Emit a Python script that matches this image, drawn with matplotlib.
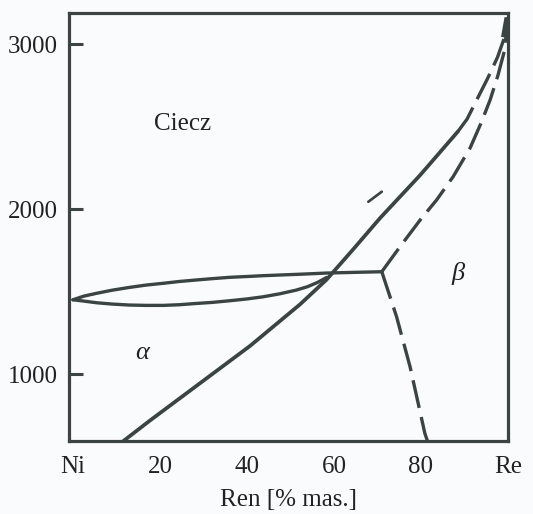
import numpy as np
import matplotlib
matplotlib.use('Agg')
import matplotlib.pyplot as plt

plt.rcParams['font.family'] = ['Liberation Serif', 'DejaVu Serif']

INK = '#3c4343'
BG = '#fafbfc'

# phase boundaries (x: % mass Re, y: temperature)
liq_ni_x = [0, 2.5, 5.4, 9, 13, 16.8, 20.8, 24.5, 28.4, 32, 36, 40, 43.7,
            47.5, 51.4, 55, 58.3, 64.5, 71]
liq_ni_y = [1450, 1472, 1489, 1508, 1525, 1539, 1550, 1561, 1570, 1578, 1586,
            1591, 1596, 1600, 1604, 1608, 1612, 1616, 1620]

sol_ni_x = [0, 2.5, 5.4, 9, 13, 16.8, 20.8, 24.5, 28, 32, 36, 40, 43.7, 47.5,
            51.4, 54, 56.3, 58.3]
sol_ni_y = [1450, 1442, 1432, 1424, 1418, 1416, 1416, 1420, 1427, 1434, 1444,
            1455, 1468, 1486, 1509, 1530, 1556, 1585]

solvus_x = [11.6, 17.7, 29.2, 40.7, 52.2, 58.3, 64.4, 70.6, 75.2, 79.8, 84.4, 88.5]
solvus_y = [594, 718, 944, 1170, 1422, 1572, 1755, 1945, 2075, 2205, 2345, 2470]

liq_re_x = [88.5, 90.6, 92.7, 95.3, 97.6, 99.2, 100]
liq_re_y = [2470, 2545, 2655, 2790, 2920, 3040, 3160]

sol_re_x = [71, 75.2, 79.8, 83.6, 87.4, 91.3, 93.8, 95.9, 97.7, 99.2, 100]
sol_re_y = [1620, 1772, 1933, 2055, 2196, 2370, 2520, 2661, 2810, 2960, 3160]

beta_x = [71, 74.4, 77.5, 80.9, 81.5]
beta_y = [1620, 1347, 1044, 640, 594]

stray_x = [67.9, 71]
stray_y = [2044, 2105]

xticks = [0, 20, 40, 60, 80, 100]
xticklabels = ['Ni', '20', '40', '60', '80', 'Re']
yticks = [1000, 2000, 3000]

fig = plt.figure(figsize=(5.33, 5.14), dpi=100, facecolor=BG)
ax = fig.add_axes([0.1295, 0.142, 0.8235, 0.8327], facecolor=BG)

lw = 2.4
dash = (0, (8.5, 2.8))
ax.plot(liq_ni_x, liq_ni_y, color=INK, lw=lw, solid_capstyle='round')
ax.plot(sol_ni_x, sol_ni_y, color=INK, lw=lw, solid_capstyle='round')
ax.plot(solvus_x, solvus_y, color=INK, lw=lw + 0.3, solid_capstyle='round')
ax.plot(liq_re_x, liq_re_y, color=INK, lw=lw, linestyle=dash)
ax.plot(sol_re_x, sol_re_y, color=INK, lw=lw, linestyle=dash)
# thick join where both curves meet the melting point of Re
ax.plot(liq_re_x[-2:], liq_re_y[-2:], color=INK, lw=5, solid_capstyle='butt')
ax.plot(beta_x, beta_y, color=INK, lw=lw, linestyle=dash)
ax.plot(stray_x, stray_y, color=INK, lw=lw * 0.8, solid_capstyle='round')

ax.text(25.3, 2515, 'Ciecz', fontsize=18, ha='center', va='center', color='#222222')
ax.text(15.8, 1125, 'α', fontsize=19, style='italic', ha='center', va='center', color='#222222')
ax.text(88.6, 1610, 'β', fontsize=19, style='italic', ha='center', va='center', color='#222222')

ax.set_xlim(-0.9, 100)
ax.set_ylim(594, 3188)
ax.set_xticks(xticks)
ax.set_xticklabels(xticklabels)
ax.set_yticks(yticks)
ax.tick_params(axis='x', length=0, pad=11, labelsize=18, labelcolor='#222222')
ax.tick_params(axis='y', direction='in', length=10, width=2.2, color=INK,
               pad=8, labelsize=18, labelcolor='#222222')
for s in ax.spines.values():
    s.set_color(INK)
    s.set_linewidth(2.3)

ax.set_xlabel('Ren [% mas.]', fontsize=18, labelpad=8, color='#222222')

fig.savefig('out.png', dpi=100, facecolor=BG)
